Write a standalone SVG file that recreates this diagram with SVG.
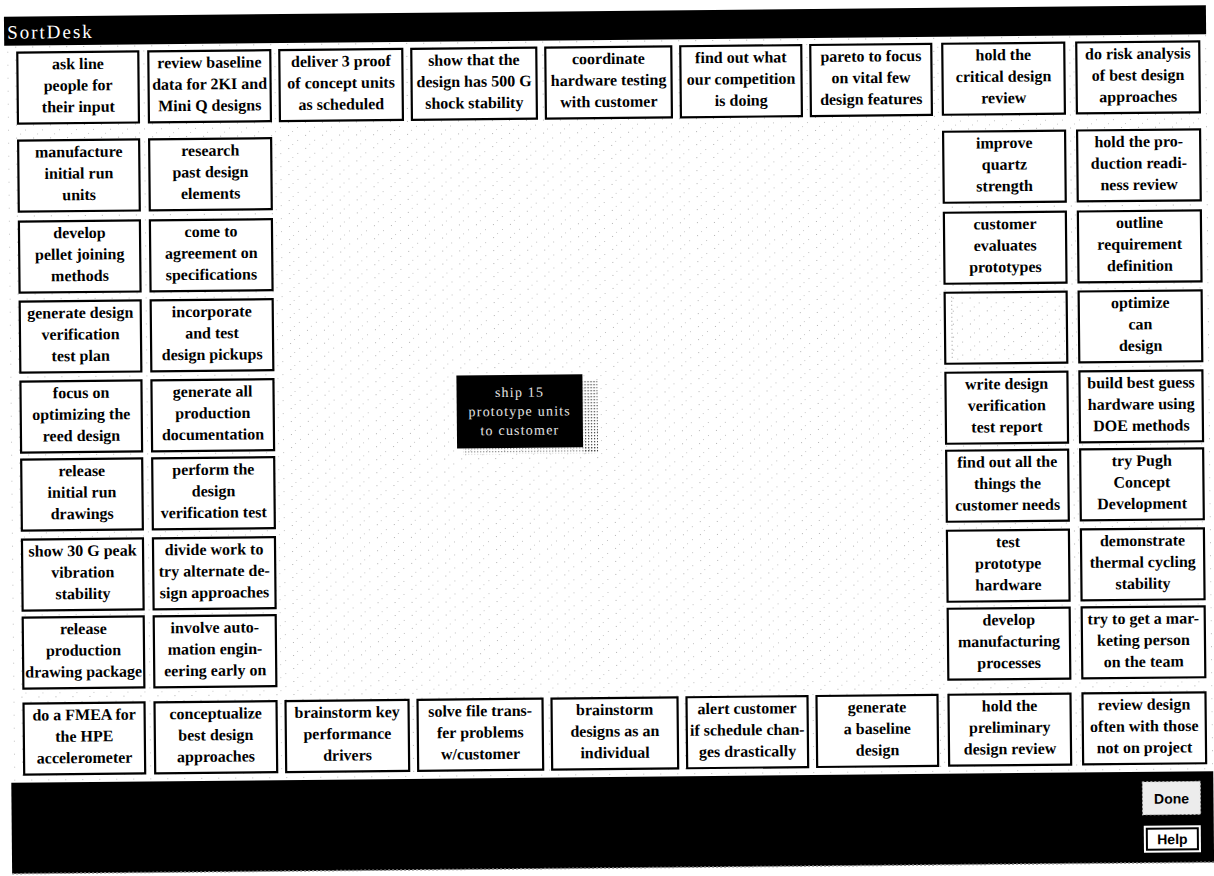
<svg xmlns="http://www.w3.org/2000/svg" width="1214" height="876" viewBox="0 0 1214 876">
  <style>
    .card rect { fill: #fff; stroke: #000; stroke-width: 2.2; }
    .card text { font-family: "Liberation Serif", "Times New Roman", serif; font-weight: bold; font-size: 16px; fill: #000; text-anchor: middle; }
    .bar { fill: #000; }
    .title { font-family: "Liberation Serif", serif; font-size: 19px; fill: #fff; letter-spacing: 2px; }
    .held text { font-family: "Liberation Serif", serif; font-size: 14px; fill: #e4e4e4; text-anchor: middle; letter-spacing: 1.2px; }
    .btn { font-family: "Liberation Sans", Arial, sans-serif; font-weight: bold; font-size: 14px; text-anchor: middle; fill: #000; }
  </style>
  <defs>
    <!-- sparse stipple of the desk surface -->
    <pattern id="stipple" width="17" height="13" patternUnits="userSpaceOnUse">
      <rect x="2" y="2" width="1" height="1" fill="#555"/>
      <rect x="11" y="7" width="1" height="1" fill="#777"/>
      <rect x="6" y="11" width="1" height="1" fill="#888"/>
    </pattern>
    <!-- denser dot screen used for the drop shadow of the lifted card -->
    <pattern id="screen" width="3" height="3" patternUnits="userSpaceOnUse">
      <rect x="0" y="0" width="1.2" height="1.2" fill="#333"/>
    </pattern>
  </defs>

  <rect width="1214" height="876" fill="#fff"/>

  <g transform="rotate(-0.55 607 438)">
    <!-- desk surface -->
    <rect x="8" y="40" width="1202" height="737" fill="url(#stipple)" opacity="0.45"/>

    <!-- window title bar -->
    <g id="titlebar">
      <rect class="bar" x="8" y="11" width="1202" height="29"/>
      <text class="title" x="11" y="33">SortDesk</text>
    </g>

    <!-- top row -->
    <g id="card-ask-line" class="card"><rect x="21" y="47" width="121" height="71"/>
      <text x="81.5" y="64">ask line</text><text x="81.5" y="85.5">people for</text><text x="81.5" y="107">their input</text></g>
    <g id="card-review-baseline" class="card"><rect x="152" y="47" width="122" height="71"/>
      <text x="213" y="64">review baseline</text><text x="213" y="85.5">data for 2KI and</text><text x="213" y="107">Mini Q designs</text></g>
    <g id="card-deliver-proof" class="card"><rect x="283" y="47" width="123" height="71"/>
      <text x="344.5" y="64">deliver 3 proof</text><text x="344.5" y="85.5">of concept units</text><text x="344.5" y="107">as scheduled</text></g>
    <g id="card-shock" class="card"><rect x="415" y="47" width="125" height="71"/>
      <text x="477.5" y="64">show that the</text><text x="477.5" y="85.5">design has 500 G</text><text x="477.5" y="107">shock stability</text></g>
    <g id="card-coordinate" class="card"><rect x="549" y="47" width="126" height="71"/>
      <text x="612" y="64">coordinate</text><text x="612" y="85.5">hardware testing</text><text x="612" y="107">with customer</text></g>
    <g id="card-competition" class="card"><rect x="684" y="47" width="121" height="71"/>
      <text x="744.5" y="64">find out what</text><text x="744.5" y="85.5">our competition</text><text x="744.5" y="107">is doing</text></g>
    <g id="card-pareto" class="card"><rect x="814" y="47" width="121" height="71"/>
      <text x="874.5" y="64">pareto to focus</text><text x="874.5" y="85.5">on vital few</text><text x="874.5" y="107">design features</text></g>
    <g id="card-critical-review" class="card"><rect x="946" y="47" width="122" height="71"/>
      <text x="1007" y="64">hold the</text><text x="1007" y="85.5">critical design</text><text x="1007" y="107">review</text></g>
    <g id="card-risk" class="card"><rect x="1080" y="47" width="123" height="71"/>
      <text x="1141.5" y="64">do risk analysis</text><text x="1141.5" y="85.5">of best design</text><text x="1141.5" y="107">approaches</text></g>

    <!-- left column 1 -->
    <g id="card-manufacture" class="card"><rect x="21" y="135" width="121" height="71"/>
      <text x="81.5" y="152">manufacture</text><text x="81.5" y="173.5">initial run</text><text x="81.5" y="195">units</text></g>
    <g id="card-pellet" class="card"><rect x="21" y="216" width="121" height="71"/>
      <text x="81.5" y="233">develop</text><text x="81.5" y="254.5">pellet joining</text><text x="81.5" y="276">methods</text></g>
    <g id="card-test-plan" class="card"><rect x="21" y="296" width="121" height="71"/>
      <text x="81.5" y="313">generate design</text><text x="81.5" y="334.5">verification</text><text x="81.5" y="356">test plan</text></g>
    <g id="card-reed" class="card"><rect x="21" y="376" width="121" height="71"/>
      <text x="81.5" y="393">focus on</text><text x="81.5" y="414.5">optimizing the</text><text x="81.5" y="436">reed design</text></g>
    <g id="card-release-drawings" class="card"><rect x="21" y="454" width="121" height="71"/>
      <text x="81.5" y="471">release</text><text x="81.5" y="492.5">initial run</text><text x="81.5" y="514">drawings</text></g>
    <g id="card-vibration" class="card"><rect x="21" y="534" width="121" height="71"/>
      <text x="81.5" y="551">show 30 G peak</text><text x="81.5" y="572.5">vibration</text><text x="81.5" y="594">stability</text></g>
    <g id="card-drawing-package" class="card"><rect x="21" y="612" width="121" height="71"/>
      <text x="81.5" y="629">release</text><text x="81.5" y="650.5">production</text><text x="81.5" y="672">drawing package</text></g>

    <!-- left column 2 -->
    <g id="card-research" class="card"><rect x="152" y="135" width="122" height="71"/>
      <text x="213" y="152">research</text><text x="213" y="173.5">past design</text><text x="213" y="195">elements</text></g>
    <g id="card-agreement" class="card"><rect x="152" y="216" width="122" height="71"/>
      <text x="213" y="233">come to</text><text x="213" y="254.5">agreement on</text><text x="213" y="276">specifications</text></g>
    <g id="card-pickups" class="card"><rect x="152" y="296" width="122" height="71"/>
      <text x="213" y="313">incorporate</text><text x="213" y="334.5">and test</text><text x="213" y="356">design pickups</text></g>
    <g id="card-documentation" class="card"><rect x="152" y="376" width="122" height="71"/>
      <text x="213" y="393">generate all</text><text x="213" y="414.5">production</text><text x="213" y="436">documentation</text></g>
    <g id="card-perform-test" class="card"><rect x="152" y="454" width="122" height="71"/>
      <text x="213" y="471">perform the</text><text x="213" y="492.5">design</text><text x="213" y="514">verification test</text></g>
    <g id="card-divide-work" class="card"><rect x="152" y="534" width="122" height="71"/>
      <text x="213" y="551">divide work to</text><text x="213" y="572.5">try alternate de-</text><text x="213" y="594">sign approaches</text></g>
    <g id="card-automation" class="card"><rect x="152" y="612" width="122" height="71"/>
      <text x="213" y="629">involve auto-</text><text x="213" y="650.5">mation engin-</text><text x="213" y="672">eering early on</text></g>

    <!-- right column 1 -->
    <g id="card-quartz" class="card"><rect x="946" y="135" width="122" height="71"/>
      <text x="1007" y="152">improve</text><text x="1007" y="173.5">quartz</text><text x="1007" y="195">strength</text></g>
    <g id="card-evaluates" class="card"><rect x="946" y="216" width="122" height="71"/>
      <text x="1007" y="233">customer</text><text x="1007" y="254.5">evaluates</text><text x="1007" y="276">prototypes</text></g>
    <g id="slot-empty" class="card">
      <rect x="946" y="296" width="122" height="71"/>
      <rect x="948" y="298" width="118" height="67" style="fill:url(#stipple);stroke:none" opacity="0.5"/>
      <line x1="953" y1="300" x2="953" y2="362" stroke="#999" stroke-width="1" stroke-dasharray="1 3"/>
    </g>
    <g id="card-test-report" class="card"><rect x="946" y="376" width="122" height="71"/>
      <text x="1007" y="393">write design</text><text x="1007" y="414.5">verification</text><text x="1007" y="436">test report</text></g>
    <g id="card-customer-needs" class="card"><rect x="946" y="454" width="122" height="71"/>
      <text x="1007" y="471">find out all the</text><text x="1007" y="492.5">things the</text><text x="1007" y="514">customer needs</text></g>
    <g id="card-test-hardware" class="card"><rect x="946" y="534" width="122" height="71"/>
      <text x="1007" y="551">test</text><text x="1007" y="572.5">prototype</text><text x="1007" y="594">hardware</text></g>
    <g id="card-processes" class="card"><rect x="946" y="612" width="122" height="71"/>
      <text x="1007" y="629">develop</text><text x="1007" y="650.5">manufacturing</text><text x="1007" y="672">processes</text></g>

    <!-- right column 2 -->
    <g id="card-readiness" class="card"><rect x="1080" y="135" width="123" height="71"/>
      <text x="1141.5" y="152">hold the pro-</text><text x="1141.5" y="173.5">duction readi-</text><text x="1141.5" y="195">ness review</text></g>
    <g id="card-requirements" class="card"><rect x="1080" y="216" width="123" height="71"/>
      <text x="1141.5" y="233">outline</text><text x="1141.5" y="254.5">requirement</text><text x="1141.5" y="276">definition</text></g>
    <g id="card-can-design" class="card"><rect x="1080" y="296" width="123" height="71"/>
      <text x="1141.5" y="313">optimize</text><text x="1141.5" y="334.5">can</text><text x="1141.5" y="356">design</text></g>
    <g id="card-doe" class="card"><rect x="1080" y="376" width="123" height="71"/>
      <text x="1141.5" y="393">build best guess</text><text x="1141.5" y="414.5">hardware using</text><text x="1141.5" y="436">DOE methods</text></g>
    <g id="card-pugh" class="card"><rect x="1080" y="454" width="123" height="71"/>
      <text x="1141.5" y="471">try Pugh</text><text x="1141.5" y="492.5">Concept</text><text x="1141.5" y="514">Development</text></g>
    <g id="card-thermal" class="card"><rect x="1080" y="534" width="123" height="71"/>
      <text x="1141.5" y="551">demonstrate</text><text x="1141.5" y="572.5">thermal cycling</text><text x="1141.5" y="594">stability</text></g>
    <g id="card-marketing" class="card"><rect x="1080" y="612" width="123" height="71"/>
      <text x="1141.5" y="629">try to get a mar-</text><text x="1141.5" y="650.5">keting person</text><text x="1141.5" y="672">on the team</text></g>

    <!-- bottom row -->
    <g id="card-fmea" class="card"><rect x="21" y="698" width="121" height="71"/>
      <text x="81.5" y="715">do a FMEA for</text><text x="81.5" y="736.5">the HPE</text><text x="81.5" y="758">accelerometer</text></g>
    <g id="card-conceptualize" class="card"><rect x="152" y="698" width="122" height="71"/>
      <text x="213" y="715">conceptualize</text><text x="213" y="736.5">best design</text><text x="213" y="758">approaches</text></g>
    <g id="card-key-drivers" class="card"><rect x="283" y="698" width="123" height="71"/>
      <text x="344.5" y="715">brainstorm key</text><text x="344.5" y="736.5">performance</text><text x="344.5" y="758">drivers</text></g>
    <g id="card-file-transfer" class="card"><rect x="415" y="698" width="125" height="71"/>
      <text x="477.5" y="715">solve file trans-</text><text x="477.5" y="736.5">fer problems</text><text x="477.5" y="758">w/customer</text></g>
    <g id="card-brainstorm-designs" class="card"><rect x="549" y="698" width="126" height="71"/>
      <text x="612" y="715">brainstorm</text><text x="612" y="736.5">designs as an</text><text x="612" y="758">individual</text></g>
    <g id="card-alert" class="card"><rect x="684" y="698" width="121" height="71"/>
      <text x="744.5" y="715">alert customer</text><text x="744.5" y="736.5">if schedule chan-</text><text x="744.5" y="758">ges drastically</text></g>
    <g id="card-baseline" class="card"><rect x="814" y="698" width="121" height="71"/>
      <text x="874.5" y="715">generate</text><text x="874.5" y="736.5">a baseline</text><text x="874.5" y="758">design</text></g>
    <g id="card-preliminary" class="card"><rect x="946" y="698" width="122" height="71"/>
      <text x="1007" y="715">hold the</text><text x="1007" y="736.5">preliminary</text><text x="1007" y="758">design review</text></g>
    <g id="card-review-often" class="card"><rect x="1080" y="698" width="123" height="71"/>
      <text x="1141.5" y="715">review design</text><text x="1141.5" y="736.5">often with those</text><text x="1141.5" y="758">not on project</text></g>

    <!-- card being dragged, with its screened shadow -->
    <g id="card-ship" class="held">
      <rect x="583" y="380" width="15" height="73" fill="url(#screen)"/>
      <rect x="463" y="447" width="135" height="6" fill="url(#screen)" opacity="0.6"/>
      <rect x="457" y="374" width="126" height="73" fill="#000"/>
      <text x="520" y="396">ship 15</text>
      <text x="520" y="415">prototype units</text>
      <text x="520" y="434">to customer</text>
    </g>

    <!-- bottom control bar -->
    <g id="controlbar">
      <rect class="bar" x="8" y="777" width="1202" height="91"/>
      <line x1="8" y1="868" x2="1210" y2="868" stroke="#888" stroke-width="1.5" stroke-dasharray="2 2"/>
    </g>
    <g id="btn-done">
      <rect x="1139" y="787" width="58" height="33" fill="#ececec" stroke="#bbb" stroke-width="1" stroke-dasharray="2 2"/>
      <text class="btn" x="1168" y="809">Done</text>
    </g>
    <g id="btn-help">
      <rect x="1140" y="831" width="57" height="27" fill="#fff"/>
      <rect x="1143" y="834" width="51" height="21" fill="#fff" stroke="#000" stroke-width="2"/>
      <text class="btn" x="1168.5" y="849.5">Help</text>
    </g>
  </g>
</svg>
